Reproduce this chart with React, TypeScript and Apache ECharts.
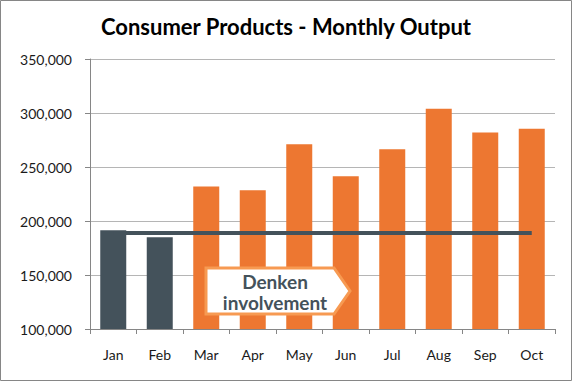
import React, { useEffect, useRef } from "react";
import * as echarts from "echarts";

const months = ["Jan", "Feb", "Mar", "Apr", "May", "Jun", "Jul", "Aug", "Sep", "Oct"];
const output = [191500, 185000, 232000, 228500, 271000, 241500, 266500, 304000, 282000, 285500];
const preDenkenMonths = 2;
const baselineValue = 189000;
const yTicks = { min: 100000, max: 350000, interval: 50000 };
const titleText = "Consumer Products - Monthly Output";
const calloutLines = ["Denken", "involvement"];

const ORANGE = "#ed7731";
const SLATE = "#44525b";

export default function App() {
  const ref = useRef<HTMLDivElement>(null);
  useEffect(() => {
    if (!ref.current) return;
    const chart = echarts.init(ref.current, undefined, { renderer: "svg" });
    chart.setOption({
      animation: false,
      backgroundColor: "#ffffff",
      title: {
        text: titleText,
        left: "center",
        top: 10,
        textStyle: { fontFamily: "Lato", fontWeight: "bold", fontSize: 22, color: "#000" },
      },
      grid: { left: 90, right: 17, top: 59, bottom: 52, containLabel: false },
      xAxis: {
        type: "category",
        data: months,
        boundaryGap: true,
        axisLine: { lineStyle: { color: "#868686", width: 1 } },
        axisTick: { show: true, length: 5, alignWithLabel: false, lineStyle: { color: "#868686" } },
        axisLabel: { fontFamily: "Lato", fontSize: 14, color: "#1a1a1a", margin: 18 },
      },
      yAxis: {
        type: "value",
        min: yTicks.min,
        max: yTicks.max,
        interval: yTicks.interval,
        axisLine: { show: true, lineStyle: { color: "#868686", width: 1 } },
        axisTick: { show: true, length: 5, lineStyle: { color: "#868686" } },
        splitLine: { lineStyle: { color: "#b5b5b5", width: 1 } },
        axisLabel: {
          fontFamily: "Lato",
          fontSize: 14,
          color: "#1a1a1a",
          margin: 18,
          formatter: (v: number) => v.toLocaleString("en-US"),
        },
      },
      series: [
        {
          type: "bar",
          data: output,
          barWidth: 26,
          itemStyle: {
            color: (p: any) => (p.dataIndex < preDenkenMonths ? SLATE : ORANGE),
          },
          markLine: {
            silent: true,
            symbol: "none",
            label: { show: false },
            lineStyle: { color: SLATE, width: 4, type: "solid" },
            data: [
              [
                { coord: [months[0], baselineValue] },
                { coord: [months[months.length - 1], baselineValue] },
              ],
            ],
            z: 10,
          },
        },
      ],
      graphic: [
        {
          type: "rect",
          shape: { x: 0.5, y: 0.5, width: 571, height: 380 },
          style: { fill: "none", stroke: "#868686", lineWidth: 1 },
          silent: true,
        },
        {
          type: "polygon",
          shape: {
            points: [
              [206, 268],
              [334, 268],
              [350, 291],
              [334, 314],
              [206, 314],
            ],
          },
          style: { fill: "#ffffff", stroke: "#f79a52", lineWidth: 3 },
          z: 100,
        },
        {
          type: "text",
          x: 275,
          y: 292,
          z: 101,
          style: {
            text: calloutLines.join("\n"),
            fontFamily: "Lato",
            fontWeight: "bold",
            fontSize: 19,
            lineHeight: 21,
            fill: SLATE,
            align: "center",
            verticalAlign: "middle",
          },
        },
      ],
    });
    return () => chart.dispose();
  }, []);
  return (
    <div
      ref={ref}
      style={{ position: "fixed", left: 0, top: 0, width: 572, height: 381 }}
    />
  );
}
